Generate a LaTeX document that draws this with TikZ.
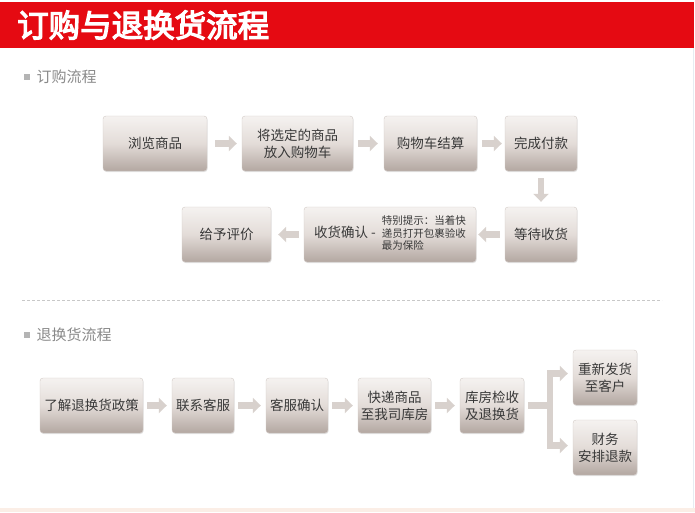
\documentclass[tikz,border=0pt]{standalone}
\usepackage{fontspec}
\setmainfont{Noto Sans CJK SC}
\newfontfamily\titlefont{Noto Sans CJK SC}[FakeBold=4]
\usetikzlibrary{arrows.meta,shadows}
\definecolor{bannerred}{HTML}{E50A12}
\definecolor{boxtop}{HTML}{F5F2F0}
\definecolor{boxmid}{HTML}{E3DCD8}
\definecolor{boxbot}{HTML}{B3A7A1}
\definecolor{boxedge}{HTML}{D2CAC6}
\definecolor{flowgray}{HTML}{D8D1CD}
\definecolor{boxtext}{HTML}{383838}
\definecolor{labelgray}{HTML}{8A8A8A}
\definecolor{bulletgray}{HTML}{B4B4B4}
\definecolor{dashgray}{HTML}{C8C8C8}
\definecolor{footpeach}{HTML}{FBEEE6}
\definecolor{edgeblue}{HTML}{E6ECF2}
\begin{document}
\begin{tikzpicture}[x=1pt,y=-1pt,
    stepbox/.style={rounded corners=3pt,draw=boxedge,line width=0.4pt,
        top color=boxtop,bottom color=boxbot,middle color=boxmid,
        drop shadow={opacity=0.2,shadow xshift=0.6pt,shadow yshift=-1pt},
        minimum height=55pt,inner sep=2pt,align=center,text=boxtext,
        font=\fontsize{13.5}{17}\selectfont},
    flow/.style={draw=flowgray,line width=6.5pt,-{Triangle[length=8pt,width=15pt]}},
    seclabel/.style={anchor=west,text=labelgray,font=\fontsize{15}{18}\selectfont}]
    \useasboundingbox (0,0) rectangle (695,512);
    \fill[white] (0,0) rectangle (695,512);
    \fill[bannerred] (0,2) rectangle (694,48);
    \node[anchor=west,text=white,inner sep=0pt,font=\titlefont\fontsize{31.5}{33}\selectfont] (title) at (17,25) {订购与退换货流程};
    \fill[footpeach] (0,508) rectangle (695,512);
    \draw[edgeblue] (693.5,48) -- (693.5,508);

    \fill[bulletgray] (24,74) rectangle (30,80);
    \node[seclabel] (order) at (33,77) {订购流程};

    \node[stepbox,minimum width=104pt] (browse) at (155,143.5) {浏览商品};
    \node[stepbox,minimum width=111pt] (cart) at (297.5,143.5) {将选定的商品\\放入购物车};
    \node[stepbox,minimum width=93pt] (settle) at (430.5,143.5) {购物车结算};
    \node[stepbox,minimum width=72pt] (pay) at (541,143.5) {完成付款};
    \node[stepbox,minimum width=72pt] (wait) at (541,234.5) {等待收货};
    \node[stepbox,minimum width=172pt] (confirm) at (390,234.5) {收货确认 -\hspace{6pt}{\fontsize{10.5}{12.5}\selectfont\renewcommand{\arraystretch}{0.95}\begin{tabular}{@{}l@{}}特别提示：当着快\\递员打开包裹验收\\最为保险\end{tabular}}};
    \node[stepbox,minimum width=89pt] (review) at (226.5,234.5) {给予评价};

    \draw[flow] ([xshift=8pt]browse.east) -- ([xshift=-5pt]cart.west);
    \draw[flow] ([xshift=5pt]cart.east) -- ([xshift=-6pt]settle.west);
    \draw[flow] ([xshift=5pt]settle.east) -- ([xshift=-3pt]pay.west);
    \draw[flow] ([yshift=-7pt]pay.south) -- ([yshift=5pt]wait.north);
    \draw[flow] ([xshift=-5pt]wait.west) -- ([xshift=2pt]confirm.east);
    \draw[flow] ([xshift=-5pt]confirm.west) -- ([xshift=7pt]review.east);

    \draw[dashgray,dash pattern=on 3pt off 2pt] (22,300) -- (662,300);

    \fill[bulletgray] (24,332) rectangle (30,338);
    \node[seclabel] (refundsec) at (33,335) {退换货流程};

    \node[stepbox,minimum width=103pt] (policy) at (91.5,405.5) {了解退换货政策};
    \node[stepbox,minimum width=62pt] (contact) at (203,405.5) {联系客服};
    \node[stepbox,minimum width=62pt] (cscheck) at (297,405.5) {客服确认};
    \node[stepbox,minimum width=73pt] (ship) at (394.5,405.5) {快递商品\\至我司库房};
    \node[stepbox,minimum width=64pt] (inspect) at (492,405.5) {库房检收\\及退换货};
    \node[stepbox,minimum width=64pt] (resend) at (605,377.5) {重新发货\\至客户};
    \node[stepbox,minimum width=64pt] (refund) at (605,447.5) {财务\\安排退款};

    \foreach \a/\b in {policy/contact,contact/cscheck,cscheck/ship,ship/inspect}
        \draw[flow] ([xshift=4pt]\a.east) -- ([xshift=-5pt]\b.west);
    \draw[flow,line join=miter] ([xshift=4pt]inspect.east) -- ++(22pt,0) |- ([xshift=-5pt,yshift=4pt]resend.west);
    \draw[flow,line join=miter] ([xshift=4pt]inspect.east) -- ++(22pt,0) |- ([xshift=-5pt,yshift=2pt]refund.west);
\end{tikzpicture}
\end{document}
